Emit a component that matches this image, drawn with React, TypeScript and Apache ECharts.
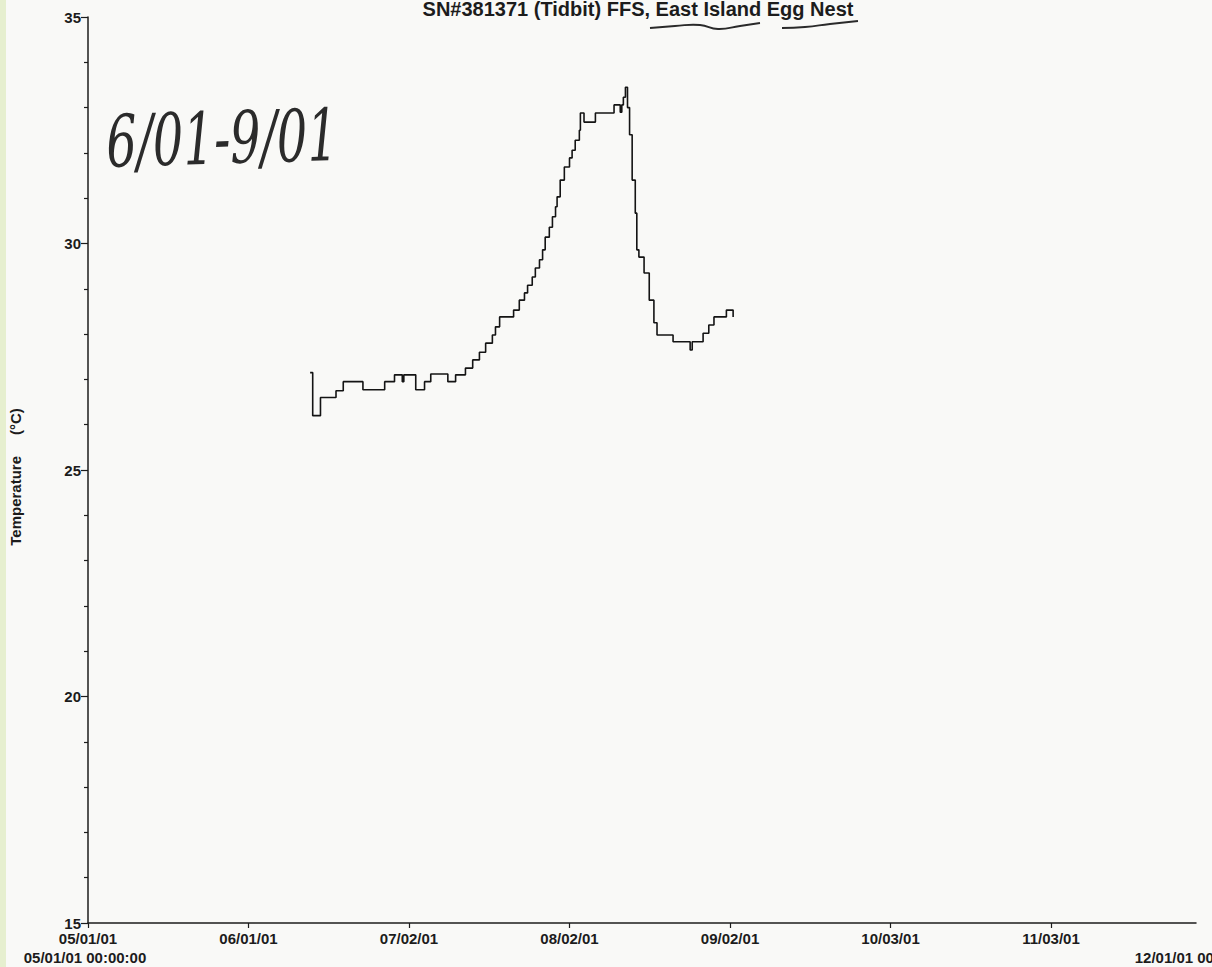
import React, { useEffect, useRef } from "react";
import * as echarts from "echarts";

// Days since 05/01/01 00:00:00 at which the logged temperature changes (step data)
const days = [
  42.9, 43.4, 44.9, 47.9, 49.3, 53.1, 57.3, 59.2, 60.7, 61.0, 63.3, 65.0, 66.2, 69.5, 71.0,
  72.9, 74.3, 75.6, 76.8, 78.1, 78.7, 79.5, 82.2, 83.3, 84.3, 84.9, 85.8, 86.4, 87.2, 87.8,
  88.3, 89.1, 89.7, 90.3, 90.6, 91.2, 92.0, 93.0, 93.5, 94.1, 94.9, 95.1, 95.8, 98.0, 101.6,
  102.8, 103.1, 103.4, 103.8, 104.2, 104.6, 105.1, 105.7, 106.0, 106.4, 107.4, 108.4, 109.3,
  109.9, 113.0, 116.3, 116.7, 118.8, 119.9, 120.9, 123.3, 124.6,
];
// Temperature (°C) from that moment on
const temps = [
  27.15, 26.2, 26.6, 26.75, 26.95, 26.77, 26.95, 27.1, 26.95, 27.1, 26.77, 26.95, 27.12, 26.95, 27.1,
  27.25, 27.43, 27.6, 27.8, 27.98, 28.16, 28.38, 28.53, 28.75, 28.91, 29.08, 29.26, 29.46, 29.64, 29.86,
  30.14, 30.36, 30.59, 30.81, 31.03, 31.4, 31.69, 31.89, 32.06, 32.28, 32.5, 32.88, 32.68, 32.88, 33.06,
  32.9, 33.06, 33.23, 33.45, 33.0, 32.4, 31.4, 30.67, 29.86, 29.7, 29.35, 28.75, 28.25,
  27.98, 27.83, 27.65, 27.83, 28.02, 28.2, 28.38, 28.53, 28.38,
];

const titleText = "SN#381371 (Tidbit) FFS, East Island Egg Nest";
const yAxisName = "Temperature     (°C)";
const startLabel = "05/01/01 00:00:00";
const endLabel = "12/01/01 00:00:00";
const note = "6/01-9/01";
const xMin = 0;
const xMax = 214;
const xInterval = 31;
const yMin = 15;
const yMax = 35;
const yInterval = 5;

const START = Date.UTC(2001, 4, 1);
const pad = (n: number) => (n < 10 ? "0" + n : "" + n);
const fmtDate = (v: number) => {
  const d = new Date(START + Math.round(v * 86400000));
  return pad(d.getUTCMonth() + 1) + "/" + pad(d.getUTCDate()) + "/" + pad(d.getUTCFullYear() % 100);
};

export default function App() {
  const ref = useRef<HTMLDivElement>(null);
  useEffect(() => {
    document.body.style.margin = "0";
    const chart = echarts.init(ref.current!, undefined, { renderer: "svg" });
    const font = "'Liberation Sans', Arial, sans-serif";
    const ink = "#1c1c1c";
    chart.setOption({
      animation: false,
      backgroundColor: "#f9f9f7",
      grid: { left: 83, right: 16, top: 17, bottom: 44, containLabel: false },
      xAxis: {
        type: "value",
        min: xMin,
        max: xMax,
        interval: xInterval,
        splitLine: { show: false },
        axisLine: { lineStyle: { color: ink, width: 1.5 } },
        axisTick: { show: true, length: 5, lineStyle: { color: ink, width: 1.2 } },
        axisLabel: {
          color: ink,
          fontSize: 15,
          fontWeight: "bold",
          fontFamily: font,
          margin: 8,
          showMaxLabel: false,
          formatter: (v: number) => fmtDate(v),
        },
      },
      yAxis: {
        type: "value",
        min: yMin,
        max: yMax,
        interval: yInterval,
        name: yAxisName,
        nameLocation: "middle",
        nameGap: 65,
        nameTextStyle: { color: ink, fontSize: 15, fontWeight: "bold", fontFamily: font, padding: [0, 14, 0, 0] },
        splitLine: { show: false },
        axisLine: { show: true, lineStyle: { color: ink, width: 1.5 } },
        axisTick: { show: true, length: 7, lineStyle: { color: ink, width: 1.2 } },
        minorTick: { show: true, splitNumber: 5, length: 4, lineStyle: { color: ink, width: 1.2 } },
        axisLabel: { color: ink, fontSize: 15, fontWeight: "bold", fontFamily: font, margin: 7 },
      },
      series: [
        {
          type: "line",
          step: "end",
          showSymbol: false,
          symbol: "none",
          data: days.map((d, i) => [d, temps[i]]),
          lineStyle: { color: "#141414", width: 1.6 },
        },
      ],
      graphic: [
        {
          type: "rect",
          shape: { x: 0, y: 0, width: 6, height: 967 },
          style: { fill: "#e6efcf" },
          silent: true,
        },
        {
          type: "text",
          x: 638,
          y: 9,
          style: {
            text: titleText,
            fill: ink,
            font: "bold 20px 'Liberation Sans', Arial, sans-serif",
            align: "center",
            verticalAlign: "middle",
          },
        },
        {
          type: "polyline",
          shape: { points: [[650, 28], [675, 26], [700, 25], [718, 29], [740, 26], [760, 23]], smooth: 0.5 },
          style: { stroke: "#2a2a2a", lineWidth: 1.8, fill: "none" },
        },
        {
          type: "polyline",
          shape: { points: [[782, 28], [805, 27], [830, 24], [858, 21]], smooth: 0.5 },
          style: { stroke: "#2a2a2a", lineWidth: 1.8, fill: "none" },
        },
        {
          type: "text",
          x: 85,
          y: 957,
          style: {
            text: startLabel,
            fill: ink,
            font: "bold 15px 'Liberation Sans', Arial, sans-serif",
            align: "center",
            verticalAlign: "middle",
          },
        },
        {
          type: "text",
          x: 1196,
          y: 957,
          style: {
            text: endLabel,
            fill: ink,
            font: "bold 15px 'Liberation Sans', Arial, sans-serif",
            align: "center",
            verticalAlign: "middle",
          },
        },
        {
          type: "text",
          x: 222,
          y: 138,
          scaleY: 1.5,
          rotation: 0.03,
          style: {
            text: note,
            fill: "#2b2b2b",
            font: "italic 48px 'DejaVu Serif', serif",
            align: "center",
            verticalAlign: "middle",
          },
        },
      ],
    });
    return () => chart.dispose();
  }, []);
  return <div ref={ref} style={{ width: 1212, height: 967 }} />;
}
